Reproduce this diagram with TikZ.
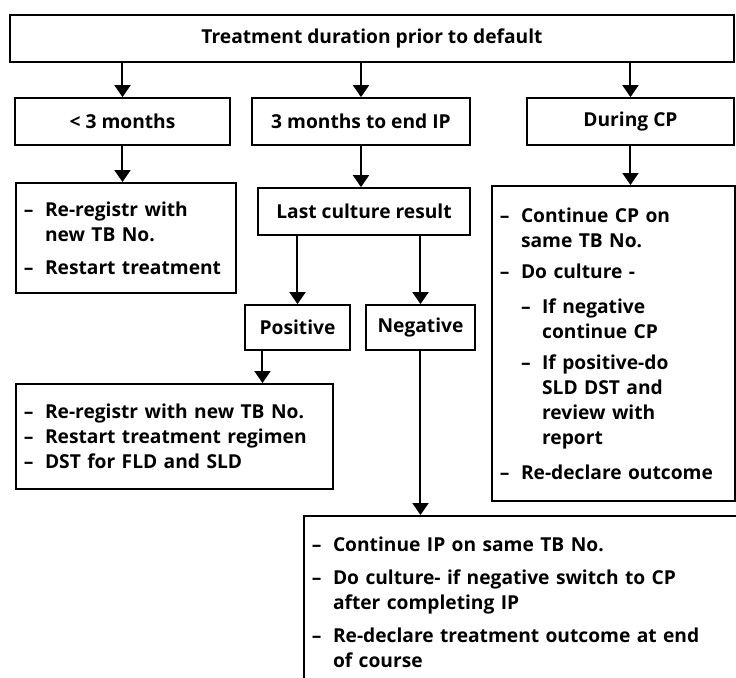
\documentclass[tikz,border=0pt]{standalone}
\usepackage{fontspec}
\setmainfont{Open Sans}
\usetikzlibrary{positioning, arrows.meta}
\newcommand{\dsh}{\makebox[1.1em][l]{--}}
\newcommand{\ind}{\hspace*{1.1em}}

\begin{document}
\begin{tikzpicture}[
    x=0.5pt, y=-0.5pt,
    box/.style={rectangle, draw=black, line width=0.9pt, minimum height=23.5pt,
                inner sep=0pt, align=center, font=\fontsize{9.6}{12.5}\selectfont\bfseries},
    listbox/.style={rectangle, draw=black, line width=0.9pt, anchor=north west,
                    inner xsep=4pt, inner ysep=0pt, align=left,
                    font=\fontsize{9.6}{12.5}\selectfont\bfseries},
    arrow/.style={-{Triangle[width=8pt,length=6pt]}, line width=1pt}
  ]
    \useasboundingbox (0,0) rectangle (736,677);

    % first two rows
    \node[box, minimum width=362pt] (top) at (372,38.5) {Treatment duration prior to default};
    \node[box, minimum width=107.5pt] (lt3) at (122.5,121.5) {< 3 months};
    \node[box, minimum width=109pt] (mid) at (361,121.5) {3 months to end IP};
    \node[box, minimum width=103.5pt] (cp) at (630.5,121.5) {During CP};

    % lists and culture branch
    \node[listbox, text width=102pt, minimum height=55pt] (rereg) at (15,182)
      {\dsh Re-registr with\\ \ind new TB No.\\[4pt]
       \dsh Restart treatment};
    \node[box, minimum width=106pt] (last) at (364,211.5) {Last culture result};
    \node[listbox, text width=113.5pt, minimum height=157.5pt] (cpbox) at (491,185)
      {\dsh Continue CP on\\ \ind same TB No.\\[3pt]
       \dsh Do culture -\\[5pt]
       \ind\dsh If negative\\ \ind\ind continue CP\\[3pt]
       \ind\dsh If positive-do\\ \ind\ind SLD DST and\\ \ind\ind review with\\ \ind\ind report\\[5pt]
       \dsh Re-declare outcome};
    \node[box, minimum width=52.5pt, minimum height=22.5pt] (pos) at (297.5,327.5) {Positive};
    \node[box, minimum width=54.5pt, minimum height=22.5pt] (neg) at (420.5,327.5) {Negative};
    \node[listbox, text width=150.5pt, minimum height=52.5pt] (posbox) at (15,383)
      {\dsh Re-registr with new TB No.\\
       \dsh Restart treatment regimen\\
       \dsh DST for FLD and SLD};
    \node[listbox, text width=208.5pt, minimum height=86pt] (negbox) at (303,515)
      {\dsh Continue IP on same TB No.\\[4pt]
       \dsh Do culture- if negative switch to CP\\ \ind after completing IP\\[4pt]
       \dsh Re-declare treatment outcome at end\\ \ind of course};

    \coordinate (pdrop) at ([xshift=-17.5pt]pos.south);

    \draw[arrow] (top.south -| lt3.north) -- (lt3.north);
    \draw[arrow] (top.south -| mid.north) -- (mid.north);
    \draw[arrow] (top.south -| cp.north) -- (cp.north);
    \draw[arrow] (lt3.south) -- (lt3.south |- rereg.north);
    \draw[arrow] (mid.south) -- (mid.south |- last.north);
    \draw[arrow] (cp.south) -- (cp.south |- cpbox.north);
    \draw[arrow] (last.south -| pos.north) -- (pos.north);
    \draw[arrow] (last.south -| neg.north) -- (neg.north);
    \draw[arrow] (pdrop) -- (pdrop |- posbox.north);
    \draw[arrow] (neg.south) -- (neg.south |- negbox.north);
  \end{tikzpicture}
\end{document}
